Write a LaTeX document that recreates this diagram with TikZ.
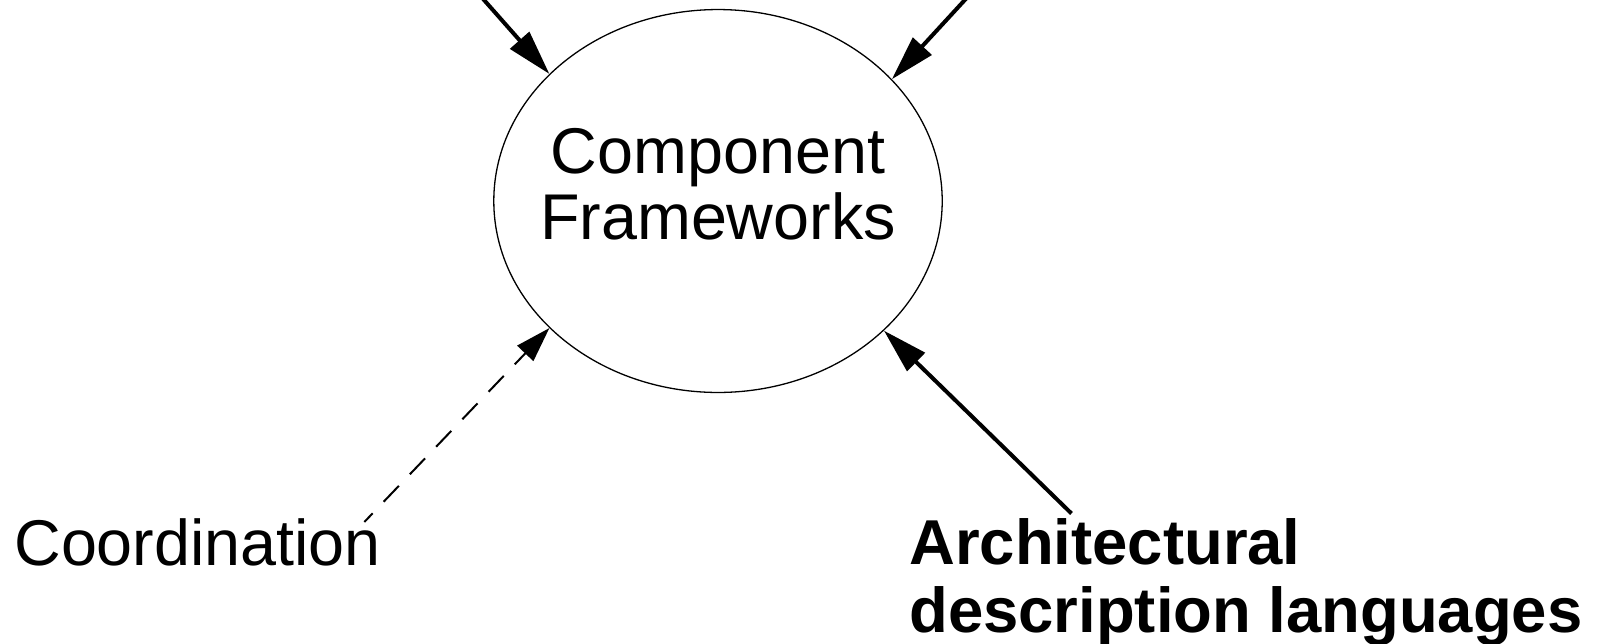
\documentclass[tikz,border=0pt]{standalone}
\usepackage{fontspec}
\setmainfont{Liberation Sans}
\usetikzlibrary{arrows.meta,shapes.geometric}

\newcommand\bigtext{\fontsize{36.8pt}{37.4pt}\selectfont}
\newcommand\boldtext{\fontsize{36.1pt}{38.6pt}\selectfont\bfseries}

\begin{document}
\begin{tikzpicture}[x=0.02cm,y=-0.02cm,
    txt/.style={inner sep=0pt,font=\bigtext},
    heavy/.style={line width=0.08cm,-{Triangle[length=0.9cm,width=0.5cm]}},
    light/.style={line width=0.04cm,dash pattern=on 0.44cm off 0.32cm,dash phase=0.2cm,
      -{Triangle[length=0.7cm,width=0.44cm]}}]
  \useasboundingbox (0,0) rectangle (1601,643);
  \clip (0,0) rectangle (1601,643);

  \node[ellipse,draw,line width=0.026cm,minimum width=8.97cm,minimum height=7.66cm,inner sep=0pt] (cf) at (718,201) {};
  \node[txt,align=center] (cftext) at (718,184.5) {Component\\Frameworks};

  \node[txt,anchor=base west] (coord) at (14,565.7) {Coordination};
  \node[txt,anchor=north west,align=left,font=\boldtext] (adl) at (909,518) {Architectural\\description languages};

  % sources above the top edge
  \coordinate (tl) at (431,-60);
  \coordinate (tr) at (1020,-60);

  \draw[heavy] (tl) -- (cf.143.6);
  \draw[heavy] (tr) -- (cf.35.1);
  \draw[light] ([xshift=-0.34cm,yshift=-0.07cm]coord.north east) -- (cf.217.4);
  \draw[heavy] ([xshift=3.25cm,yshift=0.09cm]adl.north west) -- (cf.322.6);
\end{tikzpicture}
\end{document}
